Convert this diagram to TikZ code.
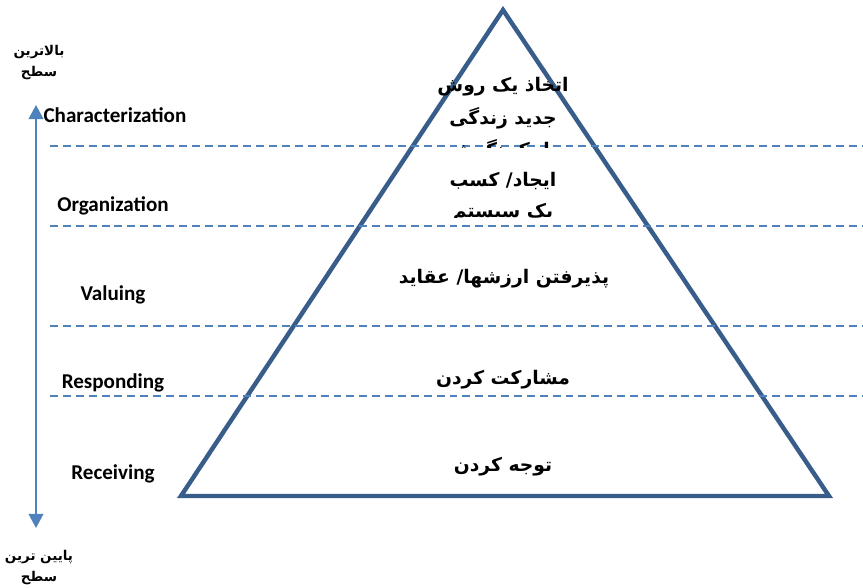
\documentclass[tikz,border=0pt]{standalone}
\usepackage{fontspec}
\usetikzlibrary{arrows.meta}
\TeXXeTstate=1
\newfontfamily\arabicfont[Script=Arabic]{DejaVu Sans}
\newfontfamily\labelfont{Carlito}
\definecolor{pyrblue}{RGB}{56,93,138}
\definecolor{lineblue}{RGB}{79,129,189}

\begin{document}
\begin{tikzpicture}[x=0.03cm, y=-0.03cm,
    level/.style={font=\labelfont\bfseries\fontsize{18}{21}\selectfont, inner sep=0pt},
    fa/.style={font=\arabicfont\bfseries\fontsize{16}{19}\selectfont, inner sep=0pt},
    fasmall/.style={font=\arabicfont\bfseries\fontsize{11.5}{13}\selectfont, inner sep=0pt},
    divider/.style={color=lineblue, line width=1.7pt, dash pattern=on 6.8pt off 4.2pt}]
  \useasboundingbox (0,0) rectangle (863,588);

  % draws the pyramid
  \draw[pyrblue, line width=3.8pt, line join=miter] (503,10)--(829,496)--(181,496)--cycle;

  % draws the level boundaries
  \foreach \y in {146,226,326,396}
    \draw[divider] (50,\y) -- (863,\y);

  % the axis from highest to lowest level
  \coordinate (top) at (36,105);
  \coordinate (bottom) at (36,528);
  \draw[lineblue, line width=1.7pt, {Triangle[width=12.5pt,length=12pt]}-{Triangle[width=12.5pt,length=12pt]}] (top) -- (bottom);

  \node[fasmall] (high1) at (39,52) {\beginR بالاترین\endR};
  \node[fasmall] (high2) at (39,73) {\beginR سطح\endR};
  \node[fasmall] (low1) at (39,557) {\beginR پایین ترین\endR};
  \node[fasmall] (low2) at (39,578) {\beginR سطح\endR};

  % level names
  \node[level] (charact) at (115,115) {Characterization};
  \node[level] (organ) at (113,206) {Organization};
  \node[level] (valuing) at (113,295) {Valuing};
  \node[level] (respond) at (113,383) {Responding};
  \node[level] (receive) at (113,474) {Receiving};

  % texts inside the pyramid
  \begin{scope}
    \clip (300,60) rectangle (700,147);
    \node[fa] (char1) at (503,87) {\beginR اتخاذ یک روش\endR};
    \node[fa] (char2) at (503,118) {\beginR جدید زندگی\endR};
    \node[fa] (char3) at (503,150) {\beginR با یک نگرش\endR};
  \end{scope}
  \begin{scope}
    \clip (300,160) rectangle (700,217);
    \node[fa] (org1) at (503,181) {\beginR ایجاد/ کسب\endR};
    \node[fa] (org2) at (503,213) {\beginR یک سیستم\endR};
  \end{scope}
  \node[fa] (val) at (504,279) {\beginR پذیرفتن ارزشها/ عقاید\endR};
  \node[fa] (resp) at (503,380) {\beginR مشارکت کردن\endR};
  \node[fa] (recv) at (503,467) {\beginR توجه کردن\endR};
\end{tikzpicture}
\end{document}
